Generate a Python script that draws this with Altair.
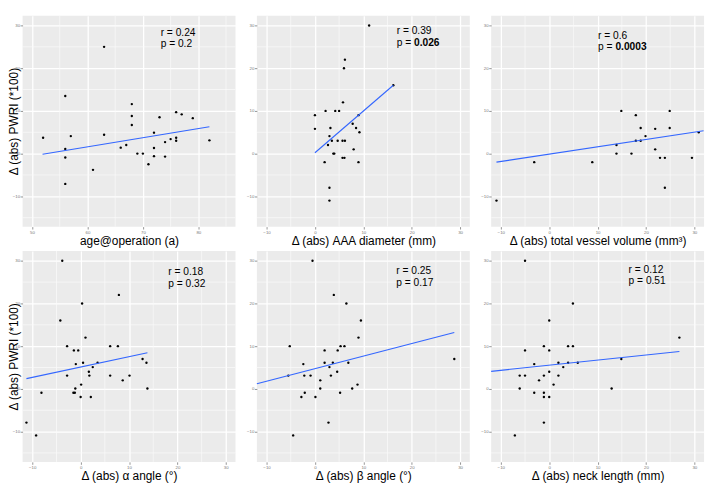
import altair as alt
import pandas as pd

# ---------------- data ----------------
p1_x = [52, 56, 56, 56, 56, 57, 61, 63, 63, 66, 67, 68, 68, 68, 69, 70, 71, 72, 72, 72, 73, 74, 74, 75, 76, 76, 76, 77, 79, 82]
p1_y = [3.7, 13.5, 1.1, -0.9, -7.1, 4.1, -3.8, 25.0, 4.4, 1.4, 2.0, 11.6, 8.8, 6.7, 0, 0, -2.5, 4.9, 1.3, -0.6, 8.5, 2.7, -0.7, 3.4, 9.7, 3.7, 3.0, 9.2, 8.3, 3.1]

p2_x = [11.2, 6.2, 6.0, 5.8, 16.2, 0, 0, 2.2, 4.2, 5.0, 9.0, 3.2, 7.8, 8.5, 9.2, 3.0, 3.5, 4.7, 5.7, 6.2, 2.7, 3.8, 4.0, 8.0, 5.7, 6.1, 2.0, 9.0, 3.0, 3.0]
p2_y = [30, 22, 20, 12, 16, 9, 5.8, 10, 10, 10, 9, 6, 7, 6, 5, 4.1, 3, 3, 3, 3, 2, 0, 0, 1, -1, -1, -2, -2, -8, -11]

p3_x = [-10.9, -3.1, 8.9, 13.9, 13.9, 14.9, 17.0, 17.9, 17.9, 18.9, 18.9, 19.9, 21.9, 21.9, 22.9, 23.9, 23.9, 24.9, 24.9, 29.5, 30.9]
p3_y = [-11, -2, -2, 2, 0, 10, 0, 9, 3, 6, 3, 4.1, 5.8, 1, -1, -1, -8, 10, 6, -1, 5]

p4_x = [-3.8, 0.3, 7.9, -4.2, 1.0, -2.8, 6.1, 7.7, -1.4, -0.5, 12.8, -1.0, 0.5, 3.5, 13.6, 2.5, 1.7, -2.8, 1.8, 6.1, 10.1, 0.1, 8.7, -8.1, -1.5, -1.2, -1.1, 13.8, 0, 2.1, -11.2, -9.2]
p4_y = [30, 20, 22, 16, 12, 10, 10, 10, 9, 9, 7, 5.8, 6.1, 6.1, 6.1, 5.1, 4, 3.1, 3.1, 3.1, 3.1, 1, 2, -0.9, -0.9, -0.9, 0.1, 0.1, -1.9, -1.9, -7.9, -10.9]

p5_x = [-0.5, 3.9, 6.5, 9.5, 9.0, -5.2, 5.3, 6.1, 2.0, 4.7, -2.4, 2.0, 3.7, 6.9, 3.0, -5.5, -2.2, -0.9, 3.3, 4.6, 1.1, 8.8, 1.1, 7.7, -2.1, 5.2, -2.8, 0.1, 2.8, -4.5, 28.8]
p5_y = [30, 22, 20, 16, 12, 10, 10, 10, 9, 9, 5.8, 6.1, 6.1, 6.1, 5.1, 3.1, 3.1, 3.1, 3.1, 4.0, 2.0, 1.0, 0.1, 0.1, -0.9, -0.9, -1.9, -1.9, -7.9, -10.9, 7.0]

p6_x = [-5.0, 4.9, 0, 26.9, -5.0, -1.1, 0, 3.9, 4.9, -3.1, 1.9, 3.9, 5.9, 2.9, 14.9, -6.1, -5.0, -1.1, 1.9, 0, -2.1, 0.9, -6.1, 12.9, -3.1, -1.1, -1.1, 0, -1.1, -7.1]
p6_y = [30, 20, 16, 12, 9, 10, 9, 10, 10, 5.8, 6.1, 6.1, 6.1, 5.1, 7.0, 3.1, 3.1, 3.1, 3.1, 4.0, 2.0, 1.0, 0.1, 0.1, -0.9, -0.9, -1.9, -1.9, -7.9, -10.9]

# regression line end points
fit_x0 = [51.9, 0.0, -10.9, -11.2, -12.0, -12.0]
fit_y0 = [-0.15, 0.2, -2.0, 2.4, 1.2, 4.1]
fit_x1 = [82.0, 16.2, 31.9, 13.8, 28.8, 26.9]
fit_y1 = [6.3, 16.0, 5.35, 8.45, 13.2, 8.75]

# annotations
ann_x = [73.2, 16.9, 10.1, 18.1, 16.8, 16.4]
ann_y = [28.3, 28.7, 27.6, 27.3, 27.6, 27.9]
r_labels = ["r = 0.24", "r = 0.39", "r = 0.6", "r = 0.18", "r = 0.25", "r = 0.12"]
p_values = ["0.2", "0.026", "0.0003", "0.32", "0.17", "0.51"]
p_bold = [False, True, True, False, False, False]

x_titles = ["age@operation (a)", "Δ (abs) AAA diameter (mm)", "Δ (abs) total vessel volume (mm³)",
            "Δ (abs) α angle (°)", "Δ (abs) β angle (°)", "Δ (abs) neck length (mm)"]
y_title = "Δ (abs) PWRI (*100)"

x_domains = [[48.3, 86.7]] + [[-12, 32]] * 5
x_major = [[50, 60, 70, 80]] + [[-10, 0, 10, 20, 30]] * 5
x_minor = [[55, 65, 75, 85]] + [[-5, 5, 15, 25]] * 5
y_domain = [-17.1, 32.3]
y_major = [-10, 0, 10, 20, 30]
y_minor = [-15, -5, 5, 15, 25]

xs = [p1_x, p2_x, p3_x, p4_x, p5_x, p6_x]
ys = [p1_y, p2_y, p3_y, p4_y, p5_y, p6_y]

FONT = "Liberation Sans"
W, H = 219, 217


def axis_common():
    return dict(
        domain=False,
        grid=True,
        gridColor="#FFFFFF",
        gridWidth=1.3,
        tickColor="#666666",
        tickWidth=0.7,
        tickSize=2.5,
        labelFontSize=4.5,
        labelColor="#7a7a7a",
        labelPadding=0.5,
        titleFontSize=12.2,
        titleFontWeight="normal",
        titleColor="black",
    )


def panel(i):
    xscale = alt.Scale(domain=x_domains[i], nice=False, zero=False)
    yscale = alt.Scale(domain=y_domain, nice=False, zero=False)

    xaxis = alt.Axis(values=x_major[i], title=x_titles[i], titlePadding=1, **axis_common())
    if i % 3 == 0:
        yaxis = alt.Axis(values=y_major, title=y_title, titleX=-2, titleBaseline="bottom", **axis_common())
    else:
        yaxis = alt.Axis(values=y_major, title=None, **axis_common())

    X = alt.X("x:Q", scale=xscale, axis=xaxis)
    Y = alt.Y("y:Q", scale=yscale, axis=yaxis)

    vminor = alt.Chart(pd.DataFrame({"x": x_minor[i]})).mark_rule(
        color="#FAFAFA", strokeWidth=0.7).encode(x=X)
    hminor = alt.Chart(pd.DataFrame({"y": y_minor})).mark_rule(
        color="#FAFAFA", strokeWidth=0.7).encode(y=Y)

    pts = alt.Chart(pd.DataFrame({"x": xs[i], "y": ys[i]})).mark_circle(
        size=6, color="black", opacity=1).encode(x=X, y=Y)

    fit = pd.DataFrame({"x": [fit_x0[i], fit_x1[i]], "y": [fit_y0[i], fit_y1[i]]})
    line = alt.Chart(fit).mark_line(color="#3366FF", strokeWidth=1.1).encode(x=X, y=Y)

    ann = pd.DataFrame({"x": [ann_x[i]], "y": [ann_y[i]], "r": [r_labels[i]],
                        "pre": ["p = "], "pv": [p_values[i]]})
    base_t = alt.Chart(ann)
    t_r = base_t.mark_text(align="left", baseline="middle", fontSize=10.5, color="black").encode(
        x=X, y=Y, text="r:N")
    t_p = base_t.mark_text(align="left", baseline="middle", fontSize=10.5, color="black", dy=12).encode(
        x=X, y=Y, text="pre:N")
    t_v = base_t.mark_text(align="left", baseline="middle", fontSize=10.5, color="black", dy=12, dx=17.8,
                           fontWeight="bold" if p_bold[i] else "normal").encode(
        x=X, y=Y, text="pv:N")

    return alt.layer(vminor, hminor, pts, line, t_r, t_p, t_v).properties(width=W, height=H)


chart = alt.concat(
    *[panel(i) for i in range(6)],
    columns=3,
    spacing={"row": 3, "column": 10},
).properties(
    padding=0
).configure(
    font=FONT
).configure_view(
    fill="#EBEBEB", strokeWidth=0
)

chart.save("out.html", embed_options={"renderer": "svg", "actions": False})
